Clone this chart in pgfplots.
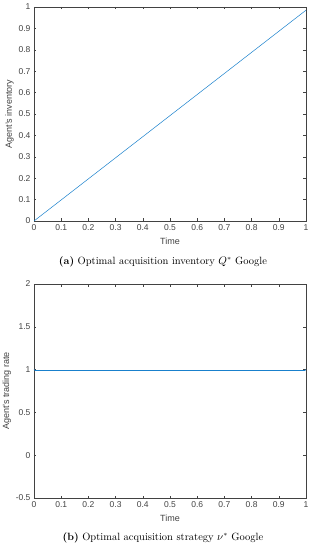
\documentclass[border=0pt]{standalone}
\usepackage{fontspec}
\usepackage{pgfplots}
\pgfplotsset{compat=1.18}
\setsansfont{Liberation Sans}
\definecolor{mblue}{rgb}{0.1,0.5,0.8}
\definecolor{mgray}{rgb}{0.26,0.26,0.26}
\pgfplotsset{
  mstyle/.style={
    scale only axis, width=272pt, height=214pt,
    axis line style={mgray, line width=0.6pt},
    tick style={mgray, line width=0.5pt},
    tick align=inside, major tick length=2.5pt,
    xtick pos=both, ytick pos=both,
    ticklabel style={font=\sffamily\fontsize{8.5}{9}\selectfont, text=mgray},
    label style={font=\sffamily\fontsize{9}{10}\selectfont, text=mgray},
    /pgf/number format/assume math mode=true,
    xmin=0, xmax=1,
    xtick={0,0.1,...,1.0},
    xticklabels={0,0.1,0.2,0.3,0.4,0.5,0.6,0.7,0.8,0.9,1},
    xlabel={Time},
    xlabel style={yshift=-1pt},
    ylabel style={yshift=-2pt},
  }
}
\begin{document}
\begin{tikzpicture}[x=1pt,y=1pt]
\useasboundingbox (0,0) rectangle (312,550);
\begin{axis}[mstyle, at={(34pt,329pt)}, anchor=south west,
  ymin=0, ymax=1,
  ytick={0,0.1,...,1.0},
  yticklabels={0,0.1,0.2,0.3,0.4,0.5,0.6,0.7,0.8,0.9,1},
  ylabel={Agent’s inventory}]
\addplot[mblue, line width=0.5pt] coordinates {(0,0) (1,0.985)};
\end{axis}
\node[font=\fontsize{10.5}{12}\selectfont] at (163,288) {\textbf{(a)} Optimal acquisition inventory $Q^{*}$ Google};
\begin{axis}[mstyle, at={(34pt,52pt)}, anchor=south west,
  ymin=-0.5, ymax=2,
  ytick={-0.5,0,0.5,1,1.5,2},
  yticklabels={-0.5,0,0.5,1,1.5,2},
  ylabel={Agent’s trading rate}]
\addplot[mblue, line width=0.7pt] coordinates {(0,1) (0.004,0.99) (0.996,0.99) (1,1)};
\end{axis}
\node[font=\fontsize{10.5}{12}\selectfont] at (163,12) {\textbf{(b)} Optimal acquisition strategy $\nu^{*}$ Google};
\end{tikzpicture}
\end{document}
